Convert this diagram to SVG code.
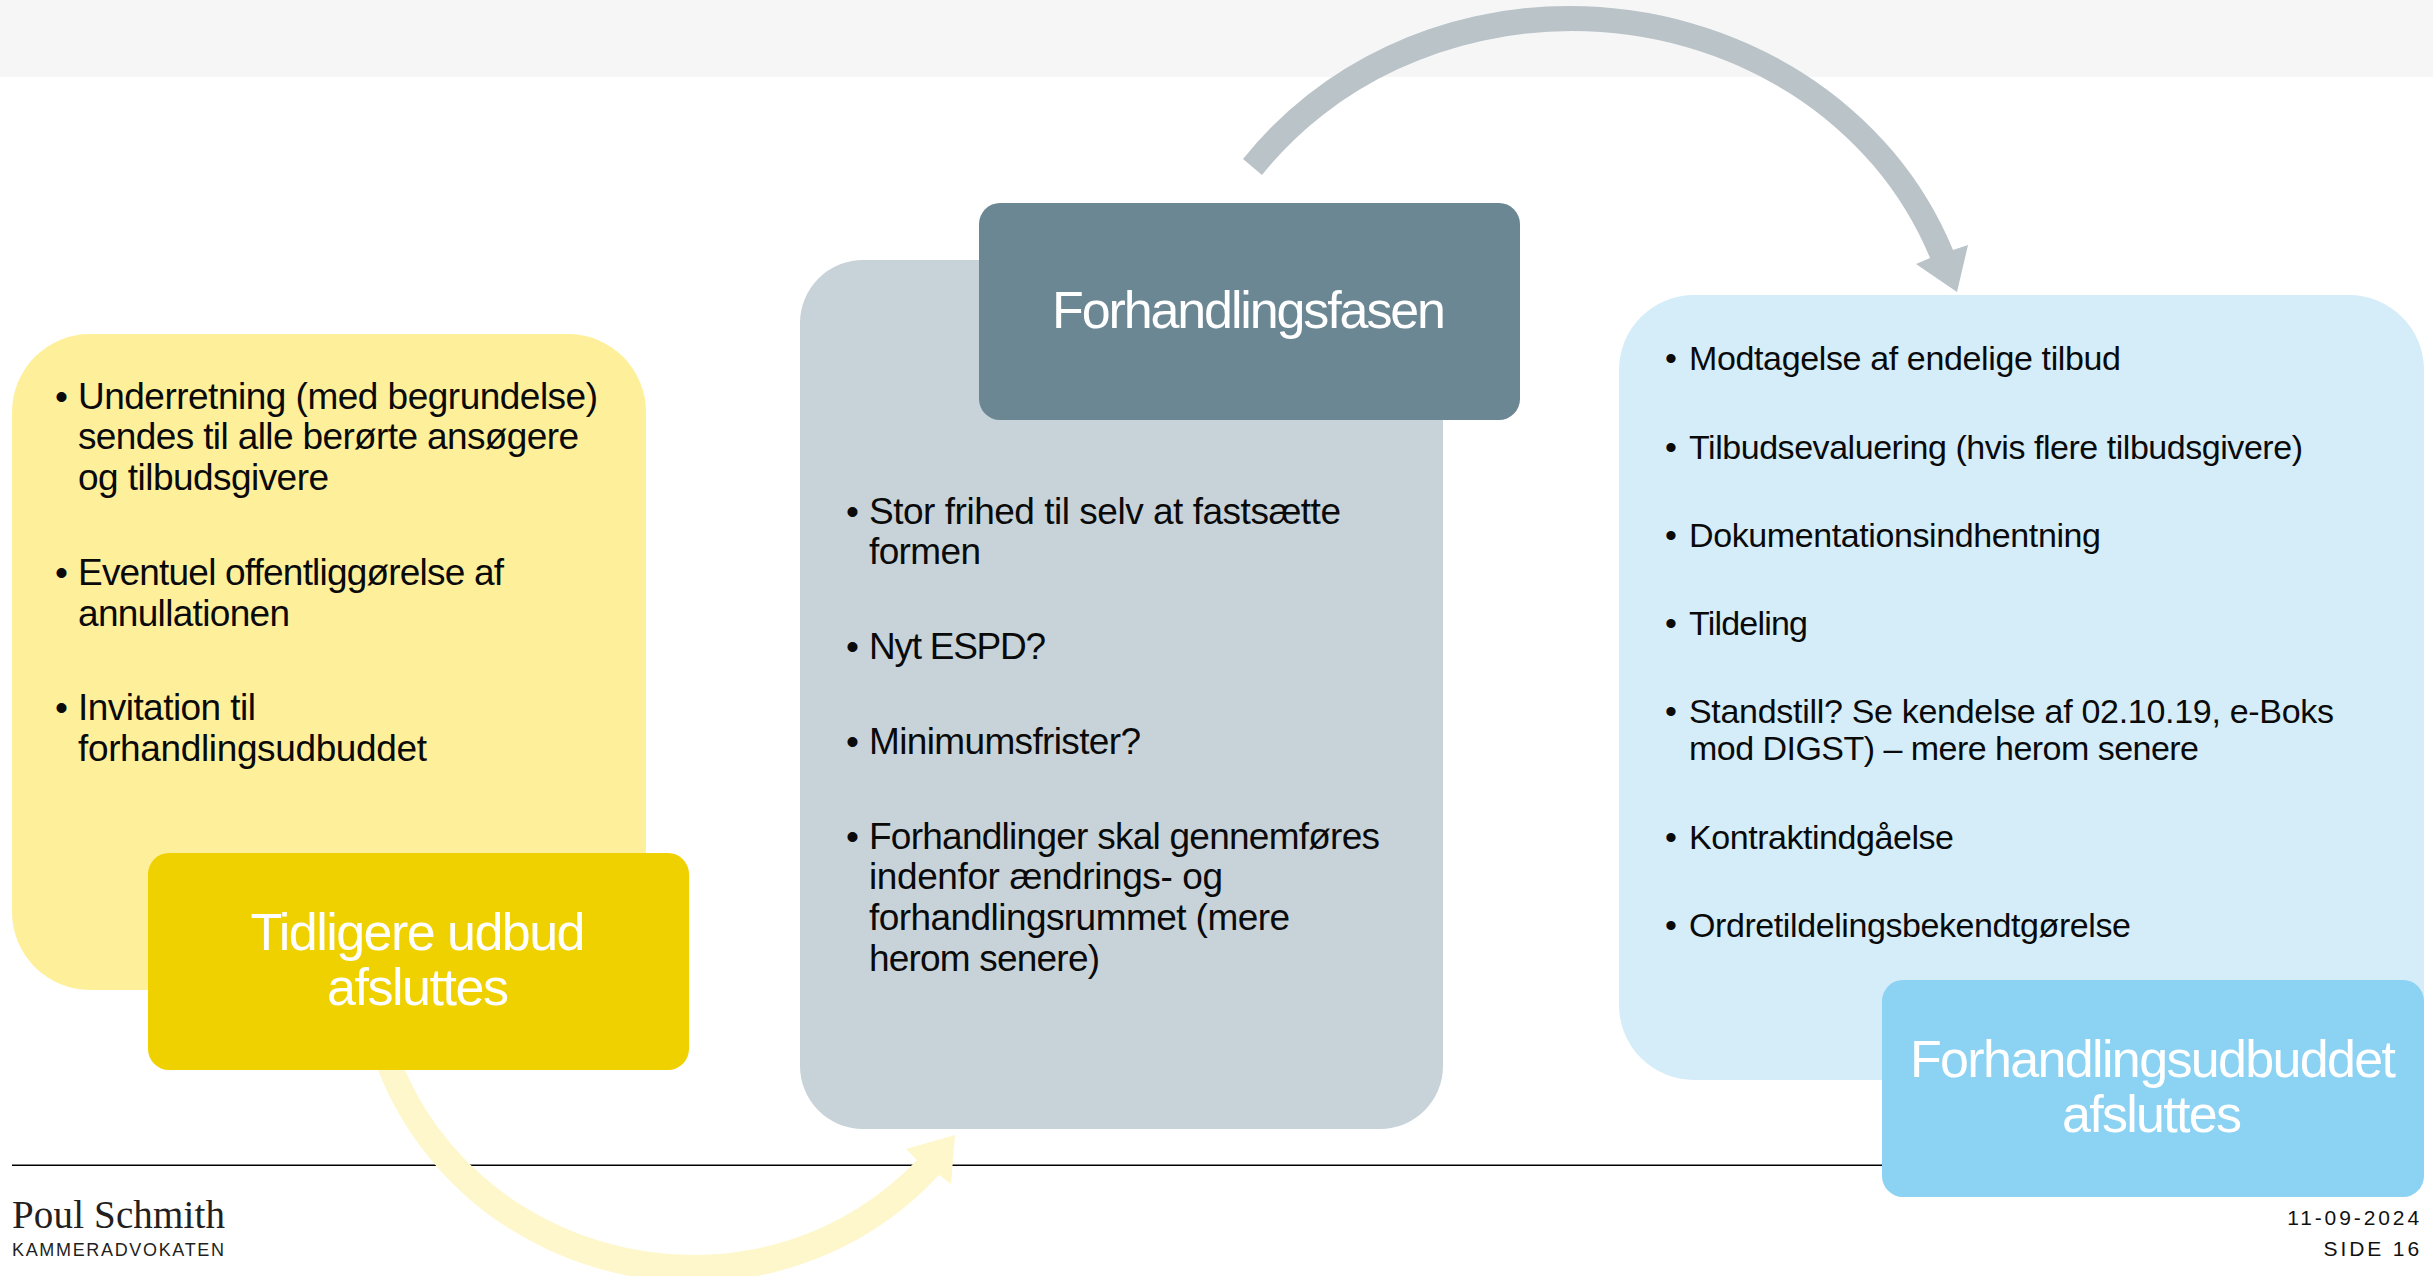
<svg xmlns="http://www.w3.org/2000/svg" width="2433" height="1276" viewBox="0 0 2433 1276">
<style>
text{font-family:"Liberation Sans",Arial,sans-serif}
.b{font-size:37px;fill:#0a0a0a}
.b2{font-size:34px;fill:#0a0a0a}
.t{font-size:52px;fill:#fff;text-anchor:middle}
.f{font-size:21px;fill:#111;text-anchor:end;letter-spacing:2.9px}
</style>
<rect width="2433" height="1276" fill="#fff"/>
<rect id="band" width="2433" height="77" fill="#f6f6f6"/>
<rect id="rule" x="12" y="1164.5" width="1880" height="1.5" fill="#000"/>
<g id="logo">
<text x="12" y="1228" textLength="213" style="font-family:'Liberation Serif',serif;font-size:39px;fill:#231f20">Poul Schmith</text>
<text x="12" y="1256" textLength="212" style="font-size:18px;fill:#231f20">KAMMERADVOKATEN</text>
</g>
<g id="connectors">
<path fill="#fef7cb" d="M378 1070A337.6 327 0 0 0 694 1282A331 327 0 0 0 939 1175L951 1184L955 1135L906 1149L917 1160A305.5 300 0 0 1 694 1255A313 300 0 0 1 405 1070Z"/>
<path fill="#b9c3c8" d="M1243 159A404.5 375 0 0 1 1569 6A410 375 0 0 1 1953 250L1968 245L1957 292L1916 264L1930 258A382.4 350 0 0 0 1572 31A383.4 350 0 0 0 1262 175Z"/>
</g>
<g id="box-yellow">
<rect x="12" y="334" width="634" height="656" rx="78" fill="#fef09b"/>
<text class="b" x="55" y="409">•</text><text class="b" x="78" y="409" textLength="520">Underretning (med begrundelse)</text>
<text class="b" x="78" y="449" textLength="501">sendes til alle berørte ansøgere</text>
<text class="b" x="78" y="490" textLength="251">og tilbudsgivere</text>
<text class="b" x="55" y="585">•</text><text class="b" x="78" y="585" textLength="426">Eventuel offentliggørelse af</text>
<text class="b" x="78" y="626" textLength="212">annullationen</text>
<text class="b" x="55" y="720">•</text><text class="b" x="78" y="720" textLength="178">Invitation til</text>
<text class="b" x="78" y="761" textLength="349">forhandlingsudbuddet</text>
</g>
<g id="box-yellow-title">
<rect x="148" y="853" width="541" height="217" rx="21" fill="#efd100"/>
<text class="t" x="418" y="950" textLength="335">Tidligere udbud</text>
<text class="t" x="418" y="1005" textLength="182">afsluttes</text>
</g>
<g id="box-grey">
<rect x="800" y="260" width="643" height="869" rx="63" fill="#c7d3d8"/>
<text class="b" x="846" y="524">•</text><text class="b" x="869" y="524" textLength="472">Stor frihed til selv at fastsætte</text>
<text class="b" x="869" y="564" textLength="112">formen</text>
<text class="b" x="846" y="659">•</text><text class="b" x="869" y="659" textLength="177">Nyt ESPD?</text>
<text class="b" x="846" y="754">•</text><text class="b" x="869" y="754" textLength="272">Minimumsfrister?</text>
<text class="b" x="846" y="849">•</text><text class="b" x="869" y="849" textLength="511">Forhandlinger skal gennemføres</text>
<text class="b" x="869" y="889" textLength="354">indenfor ændrings- og</text>
<text class="b" x="869" y="930" textLength="421">forhandlingsrummet (mere</text>
<text class="b" x="869" y="971" textLength="231">herom senere)</text>
</g>
<g id="box-grey-title">
<rect x="979" y="203" width="541" height="217" rx="21" fill="#6b8793"/>
<text class="t" x="1249" y="328" textLength="394">Forhandlingsfasen</text>
</g>
<g id="box-blue">
<rect x="1619" y="295" width="805" height="785" rx="75" fill="#d4edf9"/>
<text class="b2" x="1665" y="370">•</text><text class="b2" x="1689" y="370" textLength="432">Modtagelse af endelige tilbud</text>
<text class="b2" x="1665" y="459">•</text><text class="b2" x="1689" y="459" textLength="614">Tilbudsevaluering (hvis flere tilbudsgivere)</text>
<text class="b2" x="1665" y="547">•</text><text class="b2" x="1689" y="547" textLength="412">Dokumentationsindhentning</text>
<text class="b2" x="1665" y="635">•</text><text class="b2" x="1689" y="635" textLength="119">Tildeling</text>
<text class="b2" x="1665" y="723">•</text><text class="b2" x="1689" y="723" textLength="645">Standstill? Se kendelse af 02.10.19, e-Boks</text>
<text class="b2" x="1689" y="760" textLength="510">mod DIGST) – mere herom senere</text>
<text class="b2" x="1665" y="849">•</text><text class="b2" x="1689" y="849" textLength="265">Kontraktindgåelse</text>
<text class="b2" x="1665" y="937">•</text><text class="b2" x="1689" y="937" textLength="442">Ordretildelingsbekendtgørelse</text>
</g>
<g id="box-blue-title">
<rect x="1882" y="980" width="542" height="217" rx="21" fill="#8bd2f3"/>
<text class="t" x="2153" y="1077" textLength="486">Forhandlingsudbuddet</text>
<text class="t" x="2152" y="1132" textLength="180">afsluttes</text>
</g>
<g id="footer">
<text class="f" x="2422" y="1225">11-09-2024</text>
<text class="f" x="2422" y="1256">SIDE 16</text>
</g>
</svg>
